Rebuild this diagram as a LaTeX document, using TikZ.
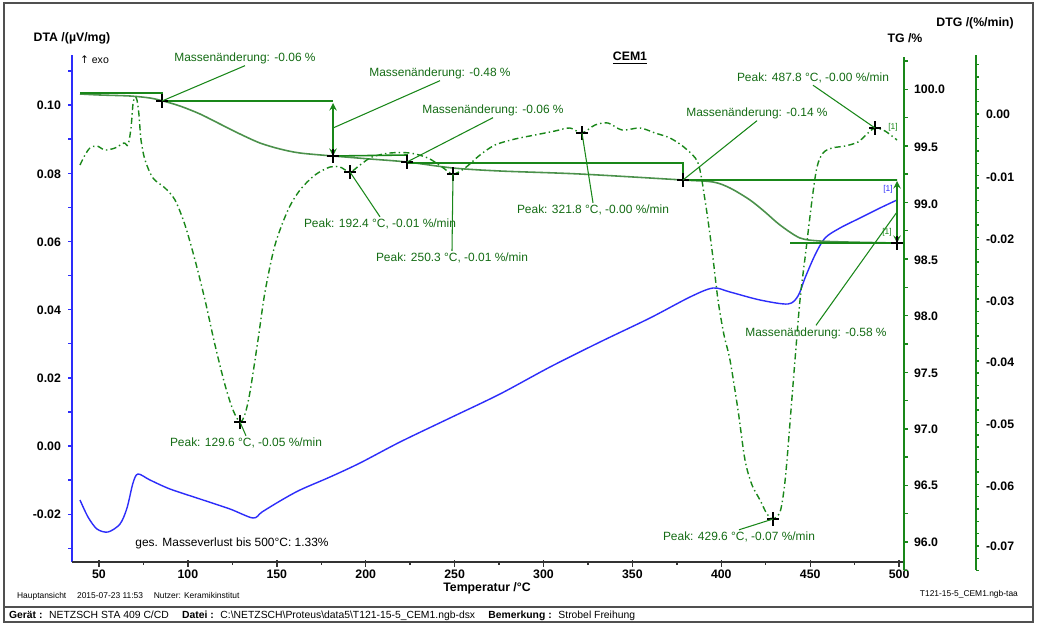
\documentclass[tikz,border=0pt]{standalone}
\usepackage{fontspec}
\setmainfont{Liberation Sans}
\newfontfamily\symfont{DejaVu Sans}
\usepackage{tikz}
\usetikzlibrary{calc,arrows,backgrounds}

\definecolor{dtablue}{RGB}{45,45,250}
\definecolor{tggreen}{RGB}{25,135,25}
\definecolor{tgcurve}{RGB}{75,145,75}
\definecolor{framegray}{RGB}{80,80,80}

\tikzset{
  annot/.style={text=tggreen!80!black, font=\fontsize{6.8}{8}\selectfont, inner sep=1pt},
  leader/.style={tggreen, line width=0.6pt},
  ticklabel/.style={font=\bfseries\fontsize{7}{8}\selectfont, inner sep=1pt},
  axtitle/.style={font=\bfseries\fontsize{7}{8}\selectfont, inner sep=1pt},
  stepline/.style={tggreen, line width=0.9pt},
  dtgline/.style={tggreen, line width=0.8pt, dash pattern=on 3.5pt off 1.8pt on 0.8pt off 1.8pt},
  smalltext/.style={font=\fontsize{4.8}{6}\selectfont, inner sep=1pt}
}
\newcommand{\PeakCross}[1]{\draw[black, line width=0.7pt] ($(#1)+(-6,0)$) -- ($(#1)+(6,0)$) ($(#1)+(0,-7)$) -- ($(#1)+(0,7)$);}

\begin{document}
\begin{tikzpicture}[x=0.02cm, y=-0.02cm]
            \useasboundingbox[fill=white] (0,0) rectangle (1039,626);
            \draw[framegray, line width=1.2pt] (4,3) rectangle (1033,622);
            \draw[framegray, line width=0.8pt] (4,607) -- (1033,607);

            \node[axtitle] (dtatitle) at (72,38) {DTA /(µV/mg)};
            \node[font=\fontsize{6}{7}\selectfont, inner sep=1pt, anchor=west] (exo) at (78,60) {{\symfont ↑} exo};
            \node[axtitle] (tgtitle) at (905,38) {TG /\%};
            \node[axtitle] (dtgtitle) at (975,23) {DTG /(\%/min)};
            \node[axtitle] (title) at (630,58) {\underline{CEM1}};
            \node[axtitle] (xtitle) at (487,588) {Temperatur /°C};

            \draw[dtablue, line width=0.9pt] (72,55) -- (72,562);
            \foreach \k in {-3,...,11}
              {\draw[dtablue, line width=0.8pt] (72,{446-\k*34.1}) -- ++(-4,0);}
            \foreach \v/\y in {0.10/105,0.08/174,0.06/242,0.04/310,0.02/378,0.00/446,-0.02/514}
              {\node[ticklabel, anchor=east] (dta\y) at (63,\y) {\v};}

            \draw[black!80, line width=0.9pt] (72,562) -- (904,562);
            \foreach \t in {50,100,...,500}
              {\draw[black!80, line width=0.8pt] ({99+(\t-50)*1.778},560) -- ++(0,7);}
            \foreach \t in {75,125,...,475}
              {\draw[black!80, line width=0.8pt] ({99+(\t-50)*1.778},562) -- ++(0,3);}
            \foreach \t in {50,100,...,500}
              {\node[ticklabel] (x\t) at ({99+(\t-50)*1.778},574) {\t};}

            \draw[tggreen, line width=0.9pt] (904,57) -- (904,570);
            \foreach \k in {0,...,18}
              {\draw[tggreen, line width=0.8pt] (904,{60.9+\k*28.3}) -- ++(4,0);}
            \foreach \v/\y in {100.0/89,99.5/147,99.0/204,98.5/260,98.0/316,97.5/373,97.0/429,96.5/485,96.0/542}
              {\node[ticklabel, anchor=west] (tg\y) at (912,\y) {\v};}

            \draw[tggreen, line width=0.9pt] (976,55) -- (976,570);
            \foreach \k in {-37,...,4}
              {\draw[tggreen, line width=0.8pt] (976,{114-\k*12.34}) -- ++(3,0);}
            \foreach \v/\y in {0.00/114,-0.01/177,-0.02/239,-0.03/301,-0.04/362,-0.05/424,-0.06/486,-0.07/546}
              {\node[ticklabel, anchor=west] (dtg\y) at (984,\y) {\v};}

            \draw[dtablue, line width=0.8pt] plot[smooth] coordinates {(80,500) (88,517) (97,529) (108,532) (120,524) (127,508) (133,483) (138,474) (150,480) (170,489) (200,499) (230,509) (253,518) (262,512) (280,501) (300,490) (330,477) (360,463) (400,442) (450,418) (500,394) (550,367) (600,342) (650,318) (690,297) (713,288) (730,292) (760,300) (788,304) (798,296) (805,278) (815,255) (825,238) (840,228) (860,218) (880,208) (897,200)};

            \draw[tgcurve, line width=0.9pt] plot[smooth] coordinates {(80,94) (100,95) (130,96) (150,98) (163,101) (180,106) (200,114) (220,124) (240,134) (260,143) (280,149) (300,153) (333,156) (370,159) (407,162) (453,168) (500,171) (580,174) (683,180) (713,182) (730,188) (750,200) (765,212) (780,225) (800,238) (820,241) (847,242) (897,243)};

            \draw[dtgline] plot[smooth] coordinates {(80,165) (85,155) (90,148) (97,146) (105,150) (115,148) (124,143) (128,145) (131,128) (133,104) (135,97) (137,100) (139,115) (141,140) (145,160) (153,178) (165,188) (175,200) (185,225) (195,260) (205,300) (215,345) (225,385) (233,410) (240,422) (245,414) (250,392) (258,340) (265,292) (275,245) (288,210) (300,190) (315,175) (330,167) (340,167) (350,172) (360,165) (372,157) (390,153) (410,153) (428,158) (442,167) (453,174) (465,168) (480,155) (495,145) (515,139) (535,135) (555,131) (570,128) (582,133) (595,125) (608,123) (622,130) (640,128) (655,133) (670,138) (685,148) (698,163) (705,200) (712,250) (718,300) (724,335) (730,360) (738,410) (745,460) (752,485) (760,500) (767,514) (773,519) (780,512) (784,490) (787,460) (791,410) (795,360) (800,300) (806,250) (812,200) (817,167) (823,153) (832,148) (845,146) (858,142) (868,133) (875,128) (885,131) (897,140)};

            \coordinate (c1) at (162,101);
            \coordinate (c2) at (333,156);
            \coordinate (c3) at (407,162);
            \coordinate (c4) at (683,180);
            \coordinate (c5) at (897,243);
            \coordinate (a1) at (333,128);
            \coordinate (a2) at (897,212);
            \coordinate (p1) at (240,422);
            \coordinate (p2) at (350,172);
            \coordinate (p3) at (453,174);
            \coordinate (p4) at (582,133);
            \coordinate (p5) at (773,519);
            \coordinate (p6) at (875,128);

            \draw[stepline] (80,93) -- (162,93) -- (c1) -- (333,101);
            \draw[stepline] (c2) -- (407,155) -- (407,163) -- (683,163) -- (c4) -- (897,180);
            \draw[stepline] (790,243) -- (c5);
            \draw[stepline, <->, >=stealth] (333,103) -- (c2);
            \draw[stepline, <->, >=stealth] (897,181) -- (c5);

            \foreach \cc in {c1,c2,c3,c4,c5,p1,p2,p3,p4,p5,p6}
              {\PeakCross{\cc}}

            \node[annot] (m1) at (245,58) {Massenänderung: -0.06 \%};
            \node[annot] (m2) at (440,73) {Massenänderung: -0.48 \%};
            \node[annot] (m3) at (493,110) {Massenänderung: -0.06 \%};
            \node[annot] (m4) at (757,113) {Massenänderung: -0.14 \%};
            \node[annot] (m5) at (816,333) {Massenänderung: -0.58 \%};
            \node[annot] (k1) at (246,443) {Peak: 129.6 °C, -0.05 \%/min};
            \node[annot] (k2) at (380,224) {Peak: 192.4 °C, -0.01 \%/min};
            \node[annot] (k3) at (452,258) {Peak: 250.3 °C, -0.01 \%/min};
            \node[annot] (k4) at (593,210) {Peak: 321.8 °C, -0.00 \%/min};
            \node[annot] (k5) at (739,537) {Peak: 429.6 °C, -0.07 \%/min};
            \node[annot] (k6) at (813,78) {Peak: 487.8 °C, -0.00 \%/min};

            \draw[leader] (m1.south) -- (c1);
            \draw[leader] (m2.south) -- (a1);
            \draw[leader] (m3.south) -- (c3);
            \draw[leader] (m4.south) -- (c4);
            \draw[leader] (m5.north) -- (a2);
            \draw[leader] (k1.north) -- (p1);
            \draw[leader] (k2.north) -- (p2);
            \draw[leader] (k3.north) -- (p3);
            \draw[leader] (k4.north) -- (p4);
            \draw[leader] (k5.north) -- (p5);
            \draw[leader] (k6.south) -- (p6);

            \node[smalltext, text=tggreen] (r1) at (893,127) {[1]};
            \node[smalltext, text=dtablue] (r2) at (888,189) {[1]};
            \node[smalltext, text=tggreen] (r3) at (887,232) {[1]};

            \node[font=\fontsize{6.8}{8}\selectfont, inner sep=1pt] (loss) at (232,543) {ges. Masseverlust bis 500°C: 1.33\%};

            \node[smalltext, anchor=west] (view) at (15,596) {Hauptansicht \quad 2015-07-23 11:53 \quad Nutzer: Keramikinstitut};
            \node[smalltext, anchor=east] (fname) at (1020,594) {T121-15-5\_CEM1.ngb-taa};
            \node[font=\fontsize{5.9}{7}\selectfont, inner sep=1pt, anchor=west] (info) at (7,616) {\textbf{Gerät :} \ NETZSCH STA 409 C/CD \quad \textbf{Datei :} \ C:\textbackslash NETZSCH\textbackslash Proteus\textbackslash data5\textbackslash T121-15-5\_CEM1.ngb-dsx \quad \textbf{Bemerkung :} \ Strobel Freihung};
\end{tikzpicture}
\end{document}
